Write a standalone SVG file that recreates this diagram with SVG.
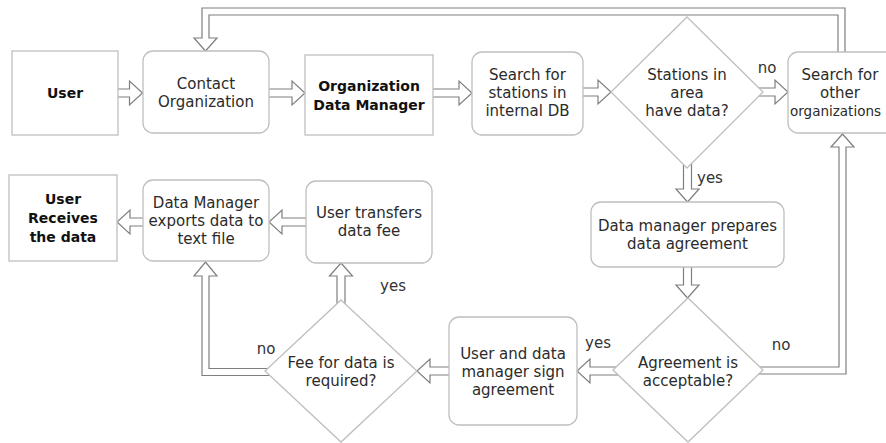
<svg xmlns="http://www.w3.org/2000/svg" width="886" height="443" viewBox="0 0 886 443">
<style>
.n{fill:#fff;stroke:#bfbfbf;stroke-width:1.3}
.a{fill:#fff;stroke:#7f7f7f;stroke-width:1.2;stroke-linejoin:miter}
text{font-family:"DejaVu Sans",Verdana,sans-serif;font-size:15px;fill:#2b2b2b;text-anchor:middle}
.b{font-weight:bold;font-size:14px;fill:#111}
.l{fill:#333}
</style>
<rect width="886" height="443" fill="#fff"/>
<g id="connectors">
<polygon class="a" points="112,89 129.5,89 129.5,81 142.5,93 129.5,105 129.5,97 112,97"/>
<polygon class="a" points="265,89 292,89 292,81 305,93 292,105 292,97 265,97"/>
<polygon class="a" points="430,89 459,89 459,81 472,93 459,105 459,97 430,97"/>
<polygon class="a" points="580,88 598,88 598,80 611,92 598,104 598,96 580,96"/>
<polygon class="a" points="755,88 775,88 775,80 788,92 775,104 775,96 755,96"/>
<polygon class="a" points="310,218 282,218 282,210 269,222 282,234 282,226 310,226"/>
<polygon class="a" points="147,218 130,218 130,210 117,222 130,234 130,226 147,226"/>
<polygon class="a" points="618,367 590,367 590,359 577,371 590,383 590,375 618,375"/>
<polygon class="a" points="455,367 430,367 430,359 417,371 430,383 430,375 455,375"/>
<polygon class="a" points="683.5,160 683.5,189 676,189 687.5,202 699,189 691.5,189 691.5,160"/>
<polygon class="a" points="683.5,262 683.5,285 676,285 687.5,298 699,285 691.5,285 691.5,262"/>
<polygon class="a" points="337,308 337,276 329.5,276 341,263 352.5,276 345,276 345,308"/>
<polygon class="a" points="845,56 845,8 202,8 202,38 194,38 205.5,51 217,38 209,38 209,15 838,15 838,56"/>
<polygon class="a" points="758,367 839,367 839,147 831,147 842.5,134 854,147 846,147 846,374 758,374"/>
<polygon class="a" points="270,368.5 209,368.5 209,276 217,276 205.5,262 194,276 202,276 202,375.5 270,375.5"/>
</g>
<g id="user">
<rect class="n" x="12" y="51" width="106" height="84"/>
<text class="b" x="65" y="98">User</text>
</g>
<g id="contact">
<rect class="n" x="143" y="51" width="126" height="82" rx="10"/>
<text x="206" y="88.5">Contact</text>
<text x="206" y="106.5">Organization</text>
</g>
<g id="orgdm">
<rect class="n" x="305" y="55" width="128" height="80"/>
<text class="b" x="369" y="90.5">Organization</text>
<text class="b" x="369" y="109.5">Data Manager</text>
</g>
<g id="searchdb">
<rect class="n" x="472" y="52" width="111" height="83" rx="10"/>
<text x="527.5" y="79.5">Search for</text>
<text x="527.5" y="97.5">stations in</text>
<text x="527.5" y="115.5">internal DB</text>
</g>
<g id="stations">
<polygon class="n" points="687,17 763,92 687,168 611,92"/>
<text x="687" y="79.5">Stations in</text>
<text x="687" y="97.5">area</text>
<text x="687" y="115.5">have data?</text>
</g>
<g id="searchother">
<rect class="n" x="788" y="52" width="120" height="81" rx="10"/>
<text x="840" y="79.5">Search for</text>
<text x="840" y="97.5">other</text>
<text x="790" y="115.5" style="text-anchor:start;font-size:14px" textLength="91" lengthAdjust="spacingAndGlyphs">organizations</text>
</g>
<g id="prepares">
<rect class="n" x="591" y="202" width="193" height="65" rx="10"/>
<text x="687.5" y="230.5">Data manager prepares</text>
<text x="687.5" y="248.5">data agreement</text>
</g>
<g id="agreement">
<polygon class="n" points="688,298 763,370 688,442 613,370"/>
<text x="688" y="367.5">Agreement is</text>
<text x="688" y="385.5">acceptable?</text>
</g>
<g id="sign">
<rect class="n" x="449" y="317" width="128" height="108" rx="10"/>
<text x="513" y="358.5">User and data</text>
<text x="513" y="376.5">manager sign</text>
<text x="513" y="394.5">agreement</text>
</g>
<g id="fee">
<polygon class="n" points="341,300 417,371 341,442 265,371"/>
<text x="341" y="367.5">Fee for data is</text>
<text x="341" y="385.5">required?</text>
</g>
<g id="transfers">
<rect class="n" x="306" y="181" width="126" height="82" rx="10"/>
<text x="369" y="218">User transfers</text>
<text x="369" y="236">data fee</text>
</g>
<g id="exports">
<rect class="n" x="143" y="180" width="126" height="81" rx="10"/>
<text x="206" y="208">Data Manager</text>
<text x="206" y="226">exports data to</text>
<text x="206" y="244">text file</text>
</g>
<g id="receives">
<rect class="n" x="9" y="175" width="108" height="86"/>
<text class="b" x="63" y="204">User</text>
<text class="b" x="63" y="223">Receives</text>
<text class="b" x="63" y="242">the data</text>
</g>
<g id="labels">
<text class="l" x="767" y="73">no</text>
<text class="l" x="697" y="183" style="text-anchor:start">yes</text>
<text class="l" x="781" y="350">no</text>
<text class="l" x="598" y="348">yes</text>
<text class="l" x="266" y="354">no</text>
<text class="l" x="393" y="291">yes</text>
</g>
</svg>
